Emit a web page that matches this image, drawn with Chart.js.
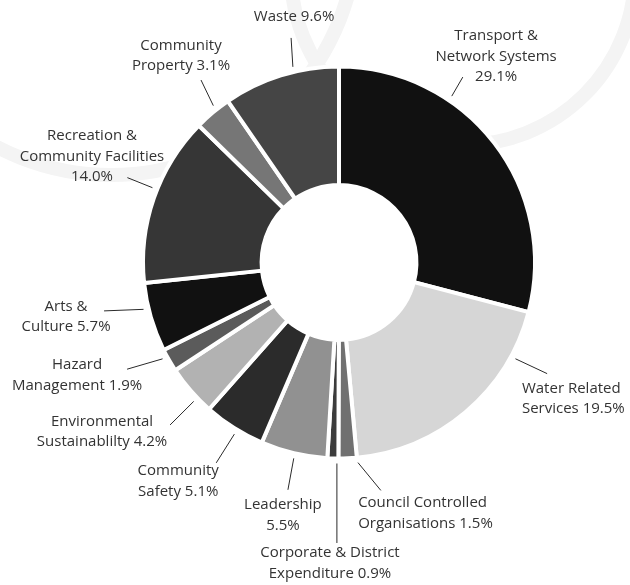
<!DOCTYPE html>
<html>
<head>
<meta charset="utf-8">
<script src="https://cdn.jsdelivr.net/npm/chart.js@4.4.1/dist/chart.umd.min.js"></script>
<style>
    html, body { margin: 0; padding: 0; background: #fff; }
    #wrap { width: 630px; height: 585px; position: relative; }
</style>
</head>
<body>
<div id="wrap"><canvas id="chartDespesas"></canvas></div>
<script>
// categorias: quebra de linha onde o rotulo quebra; "\n" no fim = percentual em linha propria
const categorias = [
    "Transport &\nNetwork Systems\n",
    "Water Related\nServices",
    "Council Controlled\nOrganisations",
    "Corporate & District\nExpenditure",
    "Leadership\n",
    "Community\nSafety",
    "Environmental\nSustainablilty",
    "Hazard\nManagement",
    "Arts &\nCulture",
    "Recreation &\nCommunity Facilities\n",
    "Community\nProperty",
    "Waste"
];
const valores = [29.1, 19.5, 1.5, 0.9, 5.5, 5.1, 4.2, 1.9, 5.7, 14.0, 3.1, 9.6];
const cores = ["#111111", "#d6d6d6", "#707070", "#3c3c3c", "#919191", "#2b2b2b",
               "#b2b2b2", "#5b5b5b", "#111111", "#363636", "#767676", "#454545"];

// [desvio do angulo, inclinacao da linha, comprimento, dx, dy, alinhamento]
const layoutRotulos = [
    [-18.2, -4, 22, 33.3, -20.5, "center"],
    [-21.1, -3.5, 35, -25.2, 25, "left"],
    [-2.9, -34, 36, -22.7, 22.6, "left"],
    [-1.2, -0.6, 79.5, -6.9, 20, "center"],
    [-0.3, -2.5, 32, -5, 25.6, "center"],
    [-1.0, 0.9, 34, -38, 18.5, "center"],
    [-2.8, -1.2, 33.4, -68, 7, "center"],
    [1.3, 12.4, 37, -50, 6, "center"],
    [2.8, 11.2, 39.5, -38, 6, "center"],
    [2.7, 0, 27, -35.4, -21, "center"],
    [1.4, 13, 28.4, -20, -24.5, "center"],
    [4.0, 9.7, 29, 3, -21, "center"]
];

const FONTE = '15px "Open Sans"';
const ALTURA_LINHA = 20.5;

function textoRotulo(i) {
    const nome = categorias[i];
    const pct = valores[i].toFixed(1) + "%";
    if (nome.endsWith("\n")) return (nome + pct).split("\n");
    return (nome + " " + pct).split("\n");
}

const fundoPlugin = {
    id: "fundo",
    beforeDraw(chart) {
        const ctx = chart.ctx;
        ctx.save();
        ctx.strokeStyle = "#f4f4f4";
        ctx.lineWidth = 14;
        ctx.beginPath();
        ctx.arc(111, -71, 246, 0, Math.PI * 2);
        ctx.stroke();
        ctx.beginPath();
        ctx.arc(463, -27, 172, 0, Math.PI * 2);
        ctx.stroke();
        ctx.restore();
    }
};

const rotulosPlugin = {
    id: "rotulos",
    afterDatasetsDraw(chart) {
        const ctx = chart.ctx;
        const meta = chart.getDatasetMeta(0);
        const grau = Math.PI / 180;
        ctx.save();
        ctx.font = FONTE;
        ctx.fillStyle = "#333333";
        ctx.strokeStyle = "#2a2a2a";
        ctx.lineWidth = 1;
        ctx.textBaseline = "middle";
        meta.data.forEach((arc, i) => {
            const p = arc.getProps(["x", "y", "startAngle", "endAngle", "outerRadius"], true);
            const [desvio, incl, comp, dx, dy, alinh] = layoutRotulos[i];
            const a = (p.startAngle + p.endAngle) / 2 + desvio * grau;
            const r0 = p.outerRadius + 5;
            const sx = p.x + r0 * Math.cos(a);
            const sy = p.y + r0 * Math.sin(a);
            const b = a + incl * grau;
            const ex = sx + comp * Math.cos(b);
            const ey = sy + comp * Math.sin(b);
            ctx.beginPath();
            ctx.moveTo(sx, sy);
            ctx.lineTo(ex, ey);
            ctx.stroke();

            const linhas = textoRotulo(i);
            ctx.textAlign = alinh;
            const y0 = ey + dy - (linhas.length - 1) * ALTURA_LINHA / 2;
            linhas.forEach((l, k) => {
                ctx.fillText(l, ex + dx, y0 + k * ALTURA_LINHA);
            });
        });
        ctx.restore();
    }
};

const chartDespesas = new Chart(document.getElementById("chartDespesas"), {
    type: "doughnut",
    data: {
        labels: categorias.map(c => c.replace(/\n/g, " ").trim()),
        datasets: [{
            data: valores,
            backgroundColor: cores,
            borderColor: "#ffffff",
            borderWidth: 4
        }]
    },
    options: {
        responsive: true,
        maintainAspectRatio: false,
        animation: false,
        cutout: "39.5%",
        layout: { padding: { left: 141, right: 93, top: 64.5, bottom: 124.5 } },
        plugins: {
            legend: { display: false },
            tooltip: { enabled: false }
        }
    },
    plugins: [fundoPlugin, rotulosPlugin]
});
</script>
</body>
</html>
